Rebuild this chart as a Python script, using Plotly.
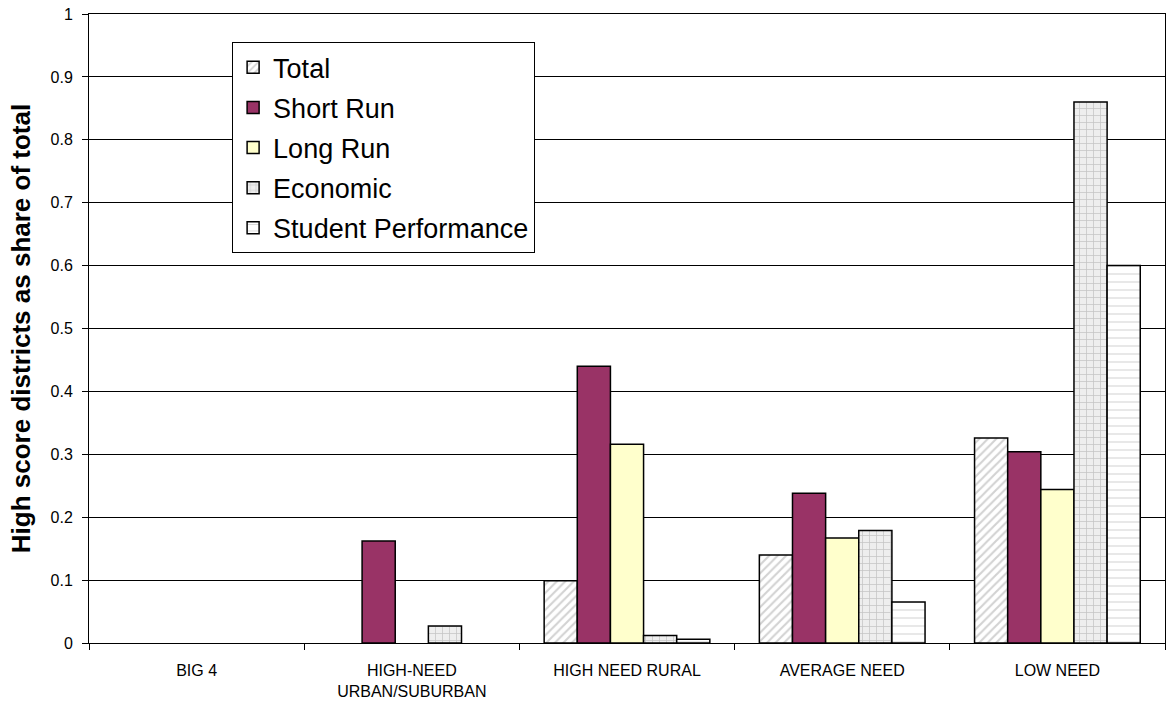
import plotly.graph_objects as go

categories = ["BIG 4", "HIGH-NEED<br>URBAN/SUBURBAN", "HIGH NEED RURAL", "AVERAGE NEED", "LOW NEED"]
total = [0, 0, 0.099, 0.140, 0.326]
short_run = [0, 0.162, 0.440, 0.238, 0.304]
long_run = [0, 0, 0.316, 0.167, 0.244]
economic = [0, 0.027, 0.012, 0.179, 0.860]
student_perf = [0, 0, 0.006, 0.065, 0.600]

FONT = "Arial, Liberation Sans, sans-serif"

series = [
    ("Total", total, dict(color="white", pattern=dict(shape="/", fgcolor="#a6a6a6", bgcolor="white", size=6, solidity=0.35))),
    ("Short Run", short_run, dict(color="#993366")),
    ("Long Run", long_run, dict(color="#FFFFCC")),
    ("Economic", economic, dict(color="#eeeeee", pattern=dict(shape="+", fgcolor="#9a9a9a", bgcolor="#eeeeee", size=7, solidity=0.2))),
    ("Student Performance", student_perf, dict(color="white", pattern=dict(shape="-", fgcolor="#b0b0b0", bgcolor="white", size=8, solidity=0.15))),
]

fig = go.Figure()
for i, (name, vals, mk) in enumerate(series):
    mk = dict(mk)
    mk["line"] = dict(color="black", width=1.5)
    # zero-height bars are left out so no outline shows on the baseline
    yvals = [v if v else None for v in vals]
    fig.add_trace(go.Bar(name=name, x=categories, y=yvals, marker=mk, legendgroup=f"g{i}"))

fig.update_layout(
    barmode="group",
    bargap=0.23,
    bargroupgap=0,
    width=1170,
    height=709,
    margin=dict(l=89, r=5, t=14, b=66),
    paper_bgcolor="white",
    plot_bgcolor="white",
    font=dict(family=FONT, color="black", size=16),
    showlegend=True,
    legend=dict(
        x=0.133, y=0.955, xanchor="left", yanchor="top",
        bordercolor="black", borderwidth=1, bgcolor="white",
        font=dict(size=27, family=FONT),
        tracegroupgap=2,
        traceorder="grouped",
    ),
    xaxis=dict(
        showline=True, linecolor="black", linewidth=1, mirror=True,
        ticks="outside", tickson="boundaries", ticklen=6, tickcolor="black",
        tickfont=dict(size=16), showgrid=False, ticklabelstandoff=13,
    ),
    yaxis=dict(
        range=[0, 1], dtick=0.1, tickformat="~g",
        showline=True, linecolor="black", linewidth=1, mirror=True,
        ticks="outside", ticklen=6, tickcolor="black",
        showgrid=True, gridcolor="black", gridwidth=1,
        tickfont=dict(size=16), ticklabelstandoff=6,
        title=dict(text="<b>High score districts as share of total</b>", font=dict(size=26), standoff=12),
    ),
)

fig.write_html("out.html")
